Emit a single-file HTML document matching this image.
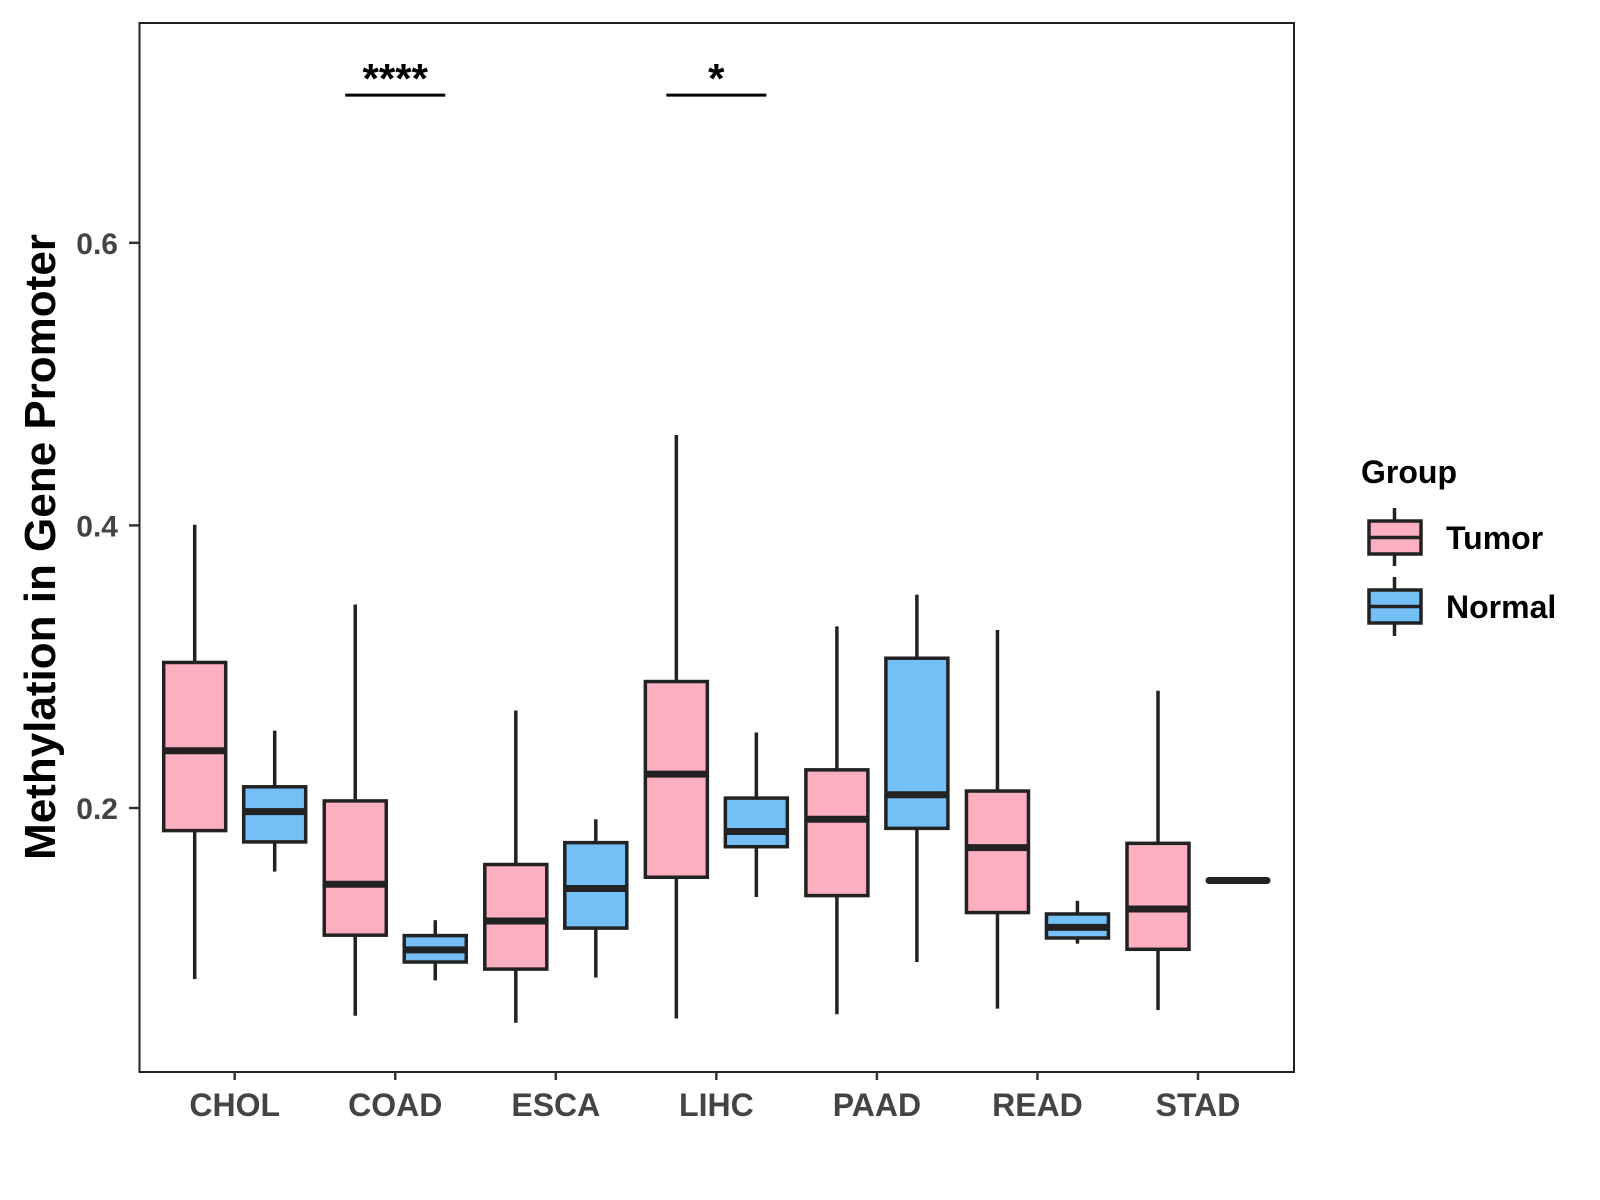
<!DOCTYPE html>
<html><head><meta charset="utf-8"><style>body{margin:0;background:#fff}svg{display:block}text{font-family:"Liberation Sans",Arial,sans-serif;font-weight:bold}</style></head>
<body>
<svg id="chart" width="1600" height="1200" viewBox="0 0 1600 1200">
<rect x="139.5" y="23" width="1154.5" height="1049" fill="#fff" stroke="#222" stroke-width="2"/>
<g id="marks"></g>
<g id="axes"></g>
<text transform="translate(55,547) rotate(-90)" text-anchor="middle" font-size="44" fill="#000">Methylation in Gene Promoter</text>
<g>
<text x="1361" y="483" font-size="32" fill="#000">Group</text>
<g>
<line x1="1394.5" y1="508" x2="1394.5" y2="566" stroke="#222" stroke-width="3.5"/>
<rect x="1369" y="521" width="52" height="33" fill="#FCAFC1" stroke="#222" stroke-width="3.5"/>
<line x1="1369" y1="537.5" x2="1421" y2="537.5" stroke="#222" stroke-width="3.5"/>
<text x="1446" y="549" font-size="32" fill="#000">Tumor</text></g>
<g>
<line x1="1394.5" y1="577" x2="1394.5" y2="636" stroke="#222" stroke-width="3.5"/>
<rect x="1369" y="590" width="52" height="33" fill="#75BFF7" stroke="#222" stroke-width="3.5"/>
<line x1="1369" y1="606.5" x2="1421" y2="606.5" stroke="#222" stroke-width="3.5"/>
<text x="1446" y="618" font-size="32" fill="#000">Normal</text></g>
</g>
</svg>
<script>
const categories=["CHOL","COAD","ESCA","LIHC","PAAD","READ","STAD"];
const tumorMin=[0.079,0.053,0.048,0.051,0.054,0.058,0.057];
const tumorQ1=[0.184,0.110,0.086,0.151,0.138,0.126,0.100];
const tumorMed=[0.2405,0.146,0.120,0.224,0.192,0.172,0.1285];
const tumorQ3=[0.303,0.205,0.160,0.2895,0.227,0.212,0.175];
const tumorMax=[0.4005,0.344,0.269,0.464,0.3285,0.326,0.283];
const normalMin=[0.155,0.078,0.080,0.137,0.091,0.104,0.1487];
const normalQ1=[0.176,0.091,0.115,0.1726,0.1856,0.108,0.1487];
const normalMed=[0.1974,0.0996,0.143,0.1834,0.2094,0.1155,0.1487];
const normalQ3=[0.215,0.1097,0.1755,0.207,0.306,0.125,0.1487];
const normalMax=[0.2547,0.1206,0.192,0.2534,0.351,0.1343,0.1487];
const yTicks=[0.2,0.4,0.6];
const sigCategories=["COAD","LIHC"];
const sigLabels=["****","*"];
const sigY=[0.7045,0.7045];
const NS="http://www.w3.org/2000/svg";
const xC=i=>234.7+i*160.55;
const y=v=>808-(v-0.2)*1413;
function mk(tag,attrs,parent,txt){const e=document.createElementNS(NS,tag);for(const k in attrs)e.setAttribute(k,attrs[k]);if(txt!==undefined)e.textContent=txt;parent.appendChild(e);return e;}
const marks=document.getElementById('marks'),axes=document.getElementById('axes');
const BW=62;
function box(cx,mn,q1,md,q3,mx,fill,name){
 const g=mk('g',{},marks);
 
 
 if(q3-q1<0.002){
  mk('line',{x1:cx-BW/2+2,x2:cx+BW/2-2,y1:y(md),y2:y(md),stroke:'#222','stroke-width':7,'stroke-linecap':'round'},g);return;}
 mk('line',{x1:cx,x2:cx,y1:y(mx),y2:y(q3),stroke:'#222','stroke-width':3.5},g);
 mk('line',{x1:cx,x2:cx,y1:y(q1),y2:y(mn),stroke:'#222','stroke-width':3.5},g);
 mk('rect',{x:cx-BW/2,y:y(q3),width:BW,height:y(q1)-y(q3),fill:fill,stroke:'#222','stroke-width':3.5},g);
 mk('line',{x1:cx-BW/2,x2:cx+BW/2,y1:y(md),y2:y(md),stroke:'#222','stroke-width':7},g);
}
categories.forEach((c,i)=>{
 box(xC(i)-40,tumorMin[i],tumorQ1[i],tumorMed[i],tumorQ3[i],tumorMax[i],'#FCAFC1','box-tumor-'+c.toLowerCase());
 box(xC(i)+40,normalMin[i],normalQ1[i],normalMed[i],normalQ3[i],normalMax[i],'#75BFF7','box-normal-'+c.toLowerCase());
 const t=mk('line',{x1:xC(i),x2:xC(i),y1:1072,y2:1080,stroke:'#333','stroke-width':2.5},axes);
 
 
 const l=mk('text',{x:xC(i),y:1116,'text-anchor':'middle','font-size':32,fill:'#444'},axes,c);
 
 
});
yTicks.forEach(v=>{
 const t=mk('line',{x1:129,x2:139.5,y1:y(v),y2:y(v),stroke:'#333','stroke-width':2.5},axes);
 
 
 const l=mk('text',{x:118,y:y(v)+11,'text-anchor':'end','font-size':30,fill:'#444'},axes,v.toFixed(1));
 
 
});
sigCategories.forEach((c,k)=>{
 const i=categories.indexOf(c);
 const g=mk('g',{},marks);
 
 
 mk('line',{x1:xC(i)-50,x2:xC(i)+50,y1:y(sigY[k]),y2:y(sigY[k]),stroke:'#000','stroke-width':3},g);
 mk('text',{x:xC(i),y:y(sigY[k])-2,'text-anchor':'middle','font-size':42,fill:'#000'},g,sigLabels[k]);
});
</script>
</body></html>
